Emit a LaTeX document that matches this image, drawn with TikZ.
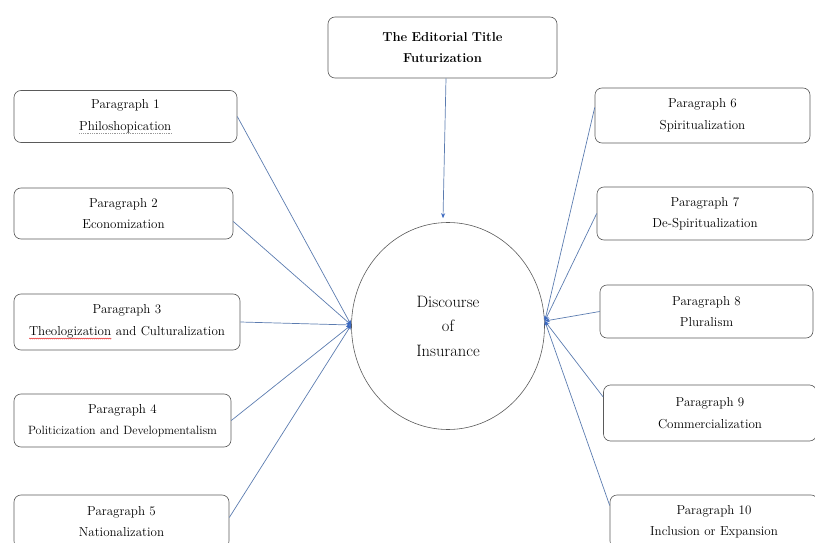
\documentclass[tikz,border=0pt]{standalone}
\usepackage{xcolor}
\usepackage{tikz}
\usetikzlibrary{shapes.geometric,arrows.meta,decorations.pathmorphing}

\definecolor{linkblue}{RGB}{92,124,176}
\definecolor{tipblue}{RGB}{58,104,192}
\definecolor{boxgray}{RGB}{90,90,90}
\definecolor{spellred}{RGB}{230,30,30}

\newsavebox\ulbox
\newcommand\grammardots[1]{\leavevmode\sbox\ulbox{#1}\rlap{\usebox\ulbox}\tikz[baseline=0pt,x=1pt,y=1pt]
  \draw[gray!80, line width=0.6pt, sharp corners, dash pattern=on 0.6pt off 1.2pt] (0,-2.6) -- (\wd\ulbox,-2.6);}
\newcommand\spellwave[1]{\leavevmode\sbox\ulbox{#1}\rlap{\usebox\ulbox}\tikz[baseline=0pt,x=1pt,y=1pt]
  \draw[spellred, line width=0.5pt, sharp corners, decorate, decoration={zigzag, amplitude=0.5pt, segment length=2pt}]
  (0,-3.4) -- (\wd\ulbox,-3.4);}

\begin{document}
\begin{tikzpicture}[x=1pt,y=-1pt,
    parabox/.style={draw=boxgray, line width=0.6pt, rounded corners=7pt, align=center, inner sep=0pt,
      font=\fontsize{13}{21.5}\selectfont},
    hub/.style={draw=boxgray, line width=0.6pt, ellipse, minimum width=193pt, minimum height=207pt,
      align=center, inner sep=0pt, font=\fontsize{16.5}{24.5}\selectfont},
    link/.style={draw=linkblue, line width=0.7pt, -{Stealth[length=5pt,width=4pt,color=tipblue]}}]
    \useasboundingbox (0,0) rectangle (815,543);
    % title and hub
    \node[parabox, minimum width=229pt, minimum height=61pt, text width=229pt] (title) at (442.5,47.5)
      {\textbf{The Editorial Title}\\ \textbf{Futurization}};
    \node[hub] (ins) at (448,326) {Discourse\\ of\\ Insurance};
    \coordinate (tipL) at ([yshift=1pt]ins.west);
    \coordinate (tipR) at ([yshift=5pt]ins.east);
    % left column
    \node[parabox, minimum width=223pt, minimum height=52pt, text width=223pt] (p1) at (125.5,116.5)
      {Paragraph 1\\ \grammardots{Philoshopication}};
    \node[parabox, minimum width=219pt, minimum height=51pt, text width=219pt] (p2) at (123.5,213.5)
      {Paragraph 2\\ Economization};
    \node[parabox, minimum width=226pt, minimum height=56pt, text width=226pt] (p3) at (127,322)
      {Paragraph 3\\ \spellwave{Theologization} and Culturalization};
    \node[parabox, minimum width=217pt, minimum height=53pt, text width=217pt] (p4) at (122.5,420.5)
      {Paragraph 4\\ {\fontsize{12}{21.5}\selectfont Politicization and Developmentalism}};
    \node[parabox, minimum width=215pt, minimum height=53pt, text width=215pt] (p5) at (121.5,521.5)
      {Paragraph 5\\ Nationalization};
    % right column
    \node[parabox, minimum width=215pt, minimum height=55pt, text width=215pt] (p6) at (702.5,115.5)
      {Paragraph 6\\ Spiritualization};
    \node[parabox, minimum width=216pt, minimum height=53pt, text width=216pt] (p7) at (705,213.5)
      {Paragraph 7\\ De-Spiritualization};
    \node[parabox, minimum width=213pt, minimum height=53pt, text width=213pt] (p8) at (706.5,311.5)
      {Paragraph 8\\ Pluralism};
    \node[parabox, minimum width=213pt, minimum height=56pt, text width=213pt] (p9) at (710,413)
      {Paragraph 9\\ Commercialization};
    \node[parabox, minimum width=208pt, minimum height=53pt, text width=208pt] (p10) at (714,521.5)
      {Paragraph 10\\ Inclusion or Expansion};
    % connectors
    \draw[link] ([xshift=3.5pt]title.south) -- ([xshift=-5pt,yshift=4pt]ins.north);
    \draw[link] (p1.east) -- (tipL);
    \draw[link] ([yshift=-8pt]p2.east) -- (tipL);
    \draw[link] (p3.east) -- (tipL);
    \draw[link] (p4.east) -- (tipL);
    \draw[link] ([yshift=4pt]p5.east) -- (tipL);
    \draw[link] ([yshift=8pt]p6.west) -- (tipR);
    \draw[link] (p7.west) -- (tipR);
    \draw[link] (p8.west) -- (tipR);
    \draw[link] ([yshift=16pt]p9.west) -- (tipR);
    \draw[link] ([yshift=16pt]p10.west) -- (tipR);
  \end{tikzpicture}
\end{document}
